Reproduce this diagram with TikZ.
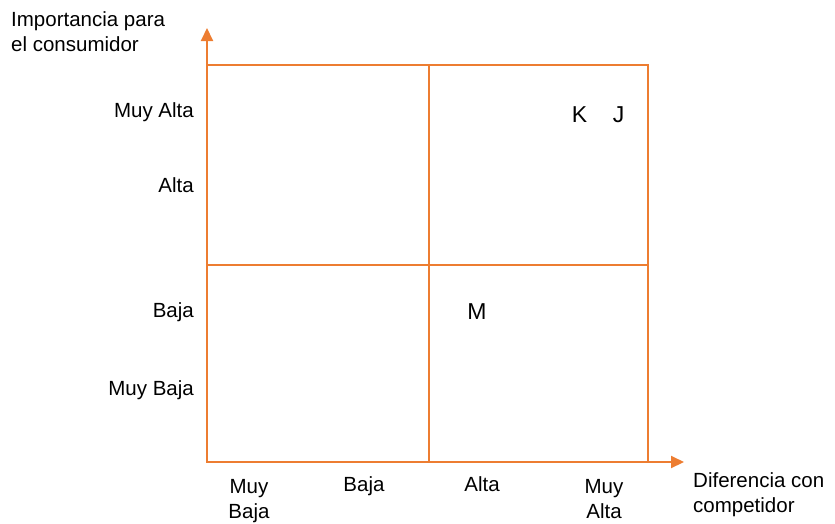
\documentclass[tikz,border=0pt]{standalone}
\usepackage{fontspec}
\setmainfont{Liberation Sans}
\usetikzlibrary{arrows.meta}
\definecolor{axisorange}{RGB}{237,125,49}
\tikzset{
  lbl/.style={inner sep=0pt, font=\fontsize{20.5}{25}\selectfont},
  pointlbl/.style={inner sep=0pt, font=\fontsize{23}{27}\selectfont},
  axisline/.style={draw=axisorange, line width=2pt, -{Triangle[length=13pt,width=12pt]}},
  frameline/.style={draw=axisorange, line width=1.6pt},
  divider/.style={draw=axisorange, line width=2.6pt}
}
\begin{document}
\begin{tikzpicture}[x=1pt,y=-1pt]
\useasboundingbox (0,0) rectangle (835,523);
% coordinates
\coordinate (O) at (207,462);
\coordinate (ytip) at (207,28);
\coordinate (xtip) at (684,462);
\coordinate (TL) at (207,65);
\coordinate (BR) at (648,462);
\coordinate (vtop) at (429,65);
\coordinate (vbot) at (429,462);
\coordinate (hl) at (207,265);
\coordinate (hr) at (648,265);
% frame and dividers
\draw[frameline] (TL) rectangle (BR);
\draw[divider] (vtop) -- (vbot);
\draw[divider] (hl) -- (hr);
% axes
\draw[axisline] (O) -- (ytip);
\draw[axisline] (O) -- (xtip);
% axis titles (base anchor = baseline of last line)
\node[lbl, anchor=base west, align=left] (ytitle) at (11,51) {Importancia para\\el consumidor};
\node[lbl, anchor=base west, align=left] (xtitle) at (693,512) {Diferencia con\\competidor};
% y labels
\node[lbl, anchor=base east] (ymalta) at (194,117) {Muy Alta};
\node[lbl, anchor=base east] (yalta) at (194,192) {Alta};
\node[lbl, anchor=base east] (ybaja) at (194,317) {Baja};
\node[lbl, anchor=base east] (ymbaja) at (194,395) {Muy Baja};
% x labels
\node[lbl, anchor=base, align=center] (xmbaja) at (249,518) {Muy\\Baja};
\node[lbl, anchor=base] (xbaja) at (364,491) {Baja};
\node[lbl, anchor=base] (xalta) at (482,491) {Alta};
\node[lbl, anchor=base, align=center] (xmalta) at (604,518) {Muy\\Alta};
% points
\node[pointlbl, anchor=base] (K) at (579.5,122) {K};
\node[pointlbl, anchor=base] (J) at (618.5,122) {J};
\node[pointlbl, anchor=base] (M) at (477,319) {M};
\end{tikzpicture}
\end{document}
